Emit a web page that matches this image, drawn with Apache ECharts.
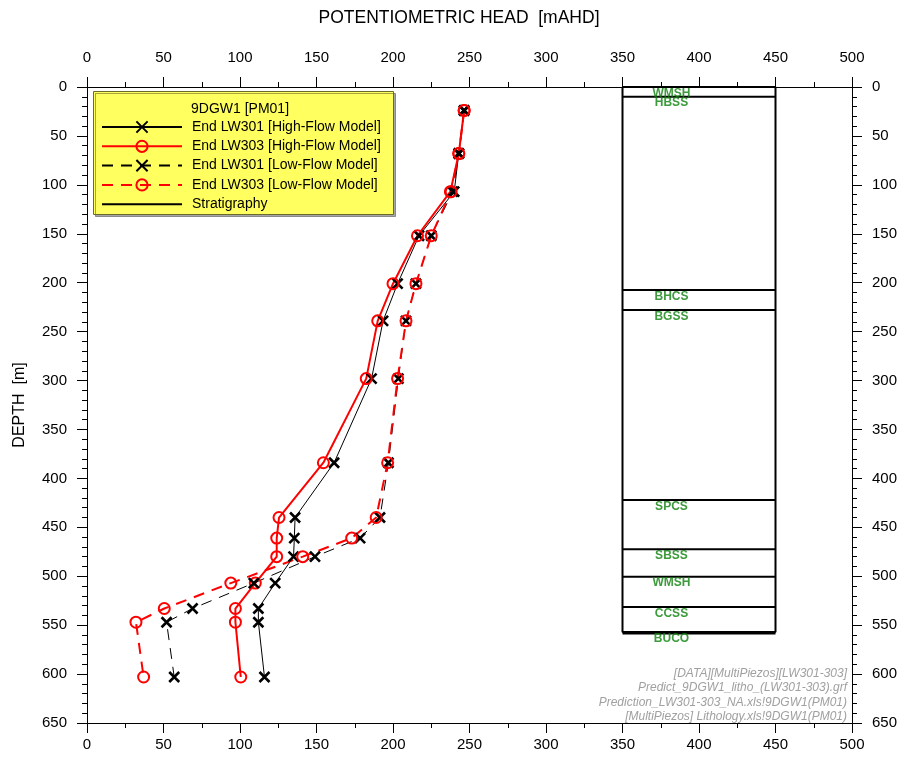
<!DOCTYPE html>
<html>
<head>
<meta charset="utf-8">
<script src="https://cdn.jsdelivr.net/npm/echarts@6/dist/echarts.min.js"></script>
<style>
html,body{margin:0;padding:0;background:#fff;}
#chart{width:905px;height:762px;}
</style>
</head>
<body>
<div id="chart"></div>
<script>
// ---- Data ----
const depths = [24, 68, 107, 152, 201, 239, 298, 384, 440, 461, 480, 507, 533, 547, 603];
const lw301High = [246.5, 243, 240, 217, 203, 193.5, 186, 161.5, 136, 135.5, 135, 123, 112, 112, 116];
const lw303High = [246.5, 243, 237.5, 216, 200, 190, 182.5, 154.5, 125.5, 124, 124, 110, 97, 97, 100.5];
const lw301Low = [246.5, 243, 239, 225, 215, 208.5, 203.5, 197, 191.5, 178.5, 149, 109, 69, 52, 57];
const lw303Low = [246.5, 243, 238, 225, 215, 208.5, 203, 196.5, 189, 173, 141, 94, 50.5, 32, 37];

const stratTops = [0, 10, 207.5, 228, 422, 472.5, 500.5, 531.5];
const stratNames = ['WMSH', 'HBSS', 'BHCS', 'BGSS', 'SPCS', 'SBSS', 'WMSH', 'CCSS', 'BUCO'];
const stratBottom = 557;
const stratLeft = 350, stratRight = 450;
const stratLabelX = 382;

const seriesNames = [
  'End LW301 [High-Flow Model]',
  'End LW303 [High-Flow Model]',
  'End LW301 [Low-Flow Model]',
  'End LW303 [Low-Flow Model]',
  'Stratigraphy'
];
const chartTitle = 'POTENTIOMETRIC HEAD  [mAHD]';
const legendTitle = '9DGW1 [PM01]';
const sourceNotes = [
  '[DATA][MultiPiezos][LW301-303]',
  'Predict_9DGW1_litho_(LW301-303).grf',
  'Prediction_LW301-303_NA.xls!9DGW1(PM01)',
  '[MultiPiezos] Lithology.xls!9DGW1(PM01)'
];

// ---- Build ----
const FONT = '"Liberation Sans", Arial, sans-serif';
const pair = (xs) => xs.map((v, i) => [v, depths[i]]);
const X_SYMBOL = 'path://M0,0L10,10M10,0L0,10';

function mkSeries(name, vals, color, width, dashed, isX) {
  return {
    name: name, type: 'line', data: pair(vals),
    xAxisIndex: 0, yAxisIndex: 0,
    symbol: isX ? X_SYMBOL : 'circle',
    symbolSize: isX ? 10 : 11,
    itemStyle: { color: 'rgba(0,0,0,0)', borderColor: color, borderWidth: isX ? 2.6 : 2 },
    lineStyle: { color: color, width: width, type: dashed ? [11, 8] : 'solid' },
    emphasis: { disabled: true }, animation: false
  };
}

const series = [
  mkSeries(seriesNames[0], lw301High, '#000000', 1, false, true),
  mkSeries(seriesNames[1], lw303High, '#ff0000', 2, false, false),
  mkSeries(seriesNames[2], lw301Low, '#000000', 1, true, true),
  mkSeries(seriesNames[3], lw303Low, '#ff0000', 2, true, false)
];

// stratigraphy outline and boundaries
const stratSegs = [
  [[stratLeft, 0], [stratLeft, stratBottom], [stratRight, stratBottom], [stratRight, 0], [stratLeft, 0]]
];
stratTops.slice(1).forEach(t => stratSegs.push([[stratLeft, t], [stratRight, t]]));
stratSegs.push([[stratLeft, stratBottom + 1.5], [stratRight, stratBottom + 1.5]]);
stratSegs.forEach(seg => {
  series.push({
    name: 'Stratigraphy', type: 'line', data: seg, symbol: 'none',
    itemStyle: { color: '#000' },
    lineStyle: { color: '#000', width: 2 }, silent: true, animation: false, z: 1
  });
});
const allTops = stratTops.concat([stratBottom]);
series.push({
  name: 'stratLabels', type: 'scatter', symbolSize: 0, silent: true, animation: false,
  data: allTops.map((t, i) => ({ value: [stratLabelX, t + 6.5], name: stratNames[i] })),
  label: { show: true, position: 'inside', formatter: p => p.name, color: '#0c820c',
           fontFamily: FONT, fontWeight: 'bold', fontSize: 12 },
  z: 3
});

const axisCommon = {
  type: 'value',
  axisLine: { show: true, onZero: false, lineStyle: { color: '#000', width: 1 } },
  axisTick: { show: true, inside: false, length: 10, lineStyle: { color: '#000' } },
  minorTick: { show: true, length: 5, lineStyle: { color: '#000' } },
  splitLine: { show: false },
  axisLabel: { color: '#000', fontFamily: FONT, fontSize: 15 }
};

const legendData = seriesNames.map(n => n === 'Stratigraphy'
  ? { name: n, itemStyle: { color: 'rgba(0,0,0,0)', borderWidth: 0, opacity: 0 } }
  : { name: n });

const chart = echarts.init(document.getElementById('chart'), null, { renderer: 'canvas' });
chart.setOption({
  backgroundColor: '#fff',
  animation: false,
  grid: { left: 87, right: 53, top: 87, bottom: 39, containLabel: false, outerBoundsMode: 'none' },
  xAxis: [
    Object.assign({}, axisCommon, { position: 'bottom', min: 0, max: 500, interval: 50,
      minorTick: Object.assign({}, axisCommon.minorTick, { splitNumber: 2 }),
      axisLabel: Object.assign({}, axisCommon.axisLabel, { margin: 14 }) }),
    Object.assign({}, axisCommon, { position: 'top', min: 0, max: 500, interval: 50,
      minorTick: Object.assign({}, axisCommon.minorTick, { splitNumber: 2 }),
      axisLabel: Object.assign({}, axisCommon.axisLabel, { margin: 22 }) })
  ],
  yAxis: [
    Object.assign({}, axisCommon, { position: 'left', inverse: true, min: 0, max: 650, interval: 50,
      minorTick: Object.assign({}, axisCommon.minorTick, { splitNumber: 5 }),
      axisLabel: Object.assign({}, axisCommon.axisLabel, { margin: 20 }),
      name: 'DEPTH  [m]', nameLocation: 'middle', nameGap: 59, nameRotate: 90,
      nameTextStyle: { color: '#000', fontFamily: FONT, fontSize: 16 } }),
    Object.assign({}, axisCommon, { position: 'right', inverse: true, min: 0, max: 650, interval: 50,
      minorTick: Object.assign({}, axisCommon.minorTick, { splitNumber: 5 }),
      axisLabel: Object.assign({}, axisCommon.axisLabel, { margin: 20 }) })
  ],
  legend: {
    show: true, orient: 'vertical', left: 101, top: 120,
    padding: 0, itemWidth: 80, itemHeight: 14, itemGap: 5.3,
    data: legendData,
    textStyle: { color: '#000', fontFamily: FONT, fontSize: 14, padding: [0, 0, 0, 5] },
    selectedMode: false, z: 10
  },
  graphic: [
    { type: 'text', z: 11, silent: true, x: 459, y: 18,
      style: { text: chartTitle, fill: '#000', font: '17.5px ' + FONT, textAlign: 'center', textVerticalAlign: 'middle' } },
    { type: 'rect', z: 5, silent: true,
      shape: { x: 93.5, y: 91.5, width: 300, height: 123 },
      style: { fill: '#ffff60', stroke: '#6b6b2a', lineWidth: 1, shadowColor: 'rgba(0,0,0,0.35)', shadowOffsetX: 2, shadowOffsetY: 2 } },
    { type: 'text', z: 11, silent: true, left: 191, top: 102,
      style: { text: legendTitle, fill: '#000', font: '14px ' + FONT } },
    { type: 'text', z: 11, silent: true, right: 58, top: 666,
      style: { text: sourceNotes.join('\n'), fill: '#a0a0a0', font: 'italic 12px ' + FONT,
               textAlign: 'right', lineHeight: 14.5 } }
  ],
  series: series
});
</script>
</body>
</html>
